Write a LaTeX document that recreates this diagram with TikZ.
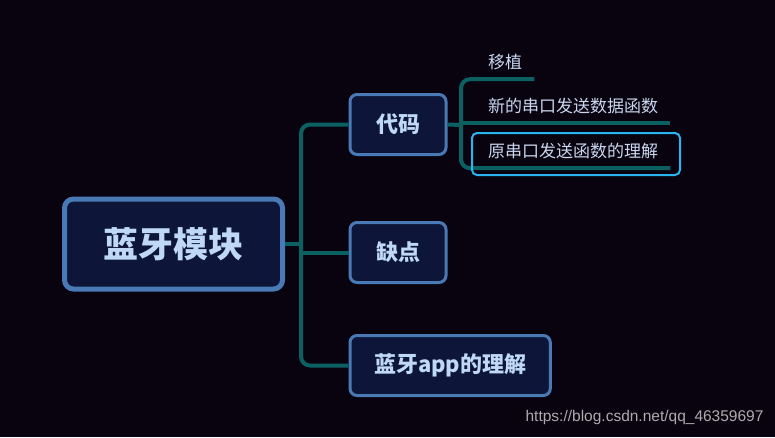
\documentclass[tikz,border=0pt]{standalone}
\usepackage{fontspec}
\setmainfont{Noto Sans CJK SC}
\newfontfamily\urlfont{Liberation Sans}
\definecolor{bgcol}{RGB}{9,3,16}
\definecolor{boxfill}{RGB}{13,21,56}
\definecolor{boxline}{RGB}{74,122,181}
\definecolor{branchcol}{RGB}{11,96,98}
\definecolor{boxtext}{RGB}{190,216,246}
\definecolor{leaftext}{RGB}{200,214,238}
\definecolor{selcol}{RGB}{43,181,240}

\begin{document}
\begin{tikzpicture}[x=1pt, y=-1pt,
    rootbox/.style={draw=boxline, line width=5pt, fill=boxfill, rounded corners=9pt,
      minimum width=218pt, minimum height=90pt, text=boxtext,
      font=\fontsize{35}{38}\selectfont\bfseries},
    subbox/.style={draw=boxline, line width=3pt, fill=boxfill, rounded corners=7pt,
      anchor=west, inner xsep=24pt, minimum width=96pt, minimum height=60pt,
      text=boxtext, font=\fontsize{22}{25}\selectfont\bfseries},
    leaf/.style={anchor=west, inner xsep=12pt, inner ysep=0pt, minimum height=34pt,
      text=leaftext, font=\fontsize{17}{19}\selectfont},
    branch/.style={draw=branchcol, line width=4pt, rounded corners=9pt}]

  % --- background ---
  \fill[bgcol] (0,0) rectangle (775,437);

  % --- Root ---
  \node[rootbox] (root) at (173.5,244) {蓝牙模块};

  % --- First level ---
  \node[subbox] (code) at (348.5,124.5) {代码};
  \node[subbox] (defect) at (348.5,252.5) {缺点};
  \node[subbox] (app) at (348.5,365.5) {蓝牙app的理解};

  \path (root.east) ++(16,0) coordinate (trunk);
  \draw[branch] (root.east) -- (trunk);
  \draw[branch] (code.west) -| (trunk) |- (app.west);
  \draw[branch] (trunk |- defect.west) -- (defect.west);

  % --- Leaves of code ---
  \node[leaf] (port) at (476,62) {移植};
  \node[leaf] (newfn) at (476,106) {新的串口发送数据函数};
  \node[leaf] (oldfn) at (476,151) {原串口发送函数的理解};

  \coordinate (ltrunk) at (461,125);
  \draw[branch] (code.east) -- (ltrunk);
  \draw[branch] (port.south east) -| (ltrunk) |- (oldfn.south east);
  \draw[branch] (ltrunk |- newfn.south) -- (newfn.south east);

  % selected leaf
  \draw[selcol, line width=2pt, rounded corners=5pt] (472,133) rectangle (680,175);

  % --- watermark ---
  \node[anchor=east, text=gray!65, font=\urlfont\fontsize{15.5}{17}\selectfont]
    (wm) at (767,417) {https://blog.csdn.net/qq\_46359697};

\end{tikzpicture}
\end{document}
